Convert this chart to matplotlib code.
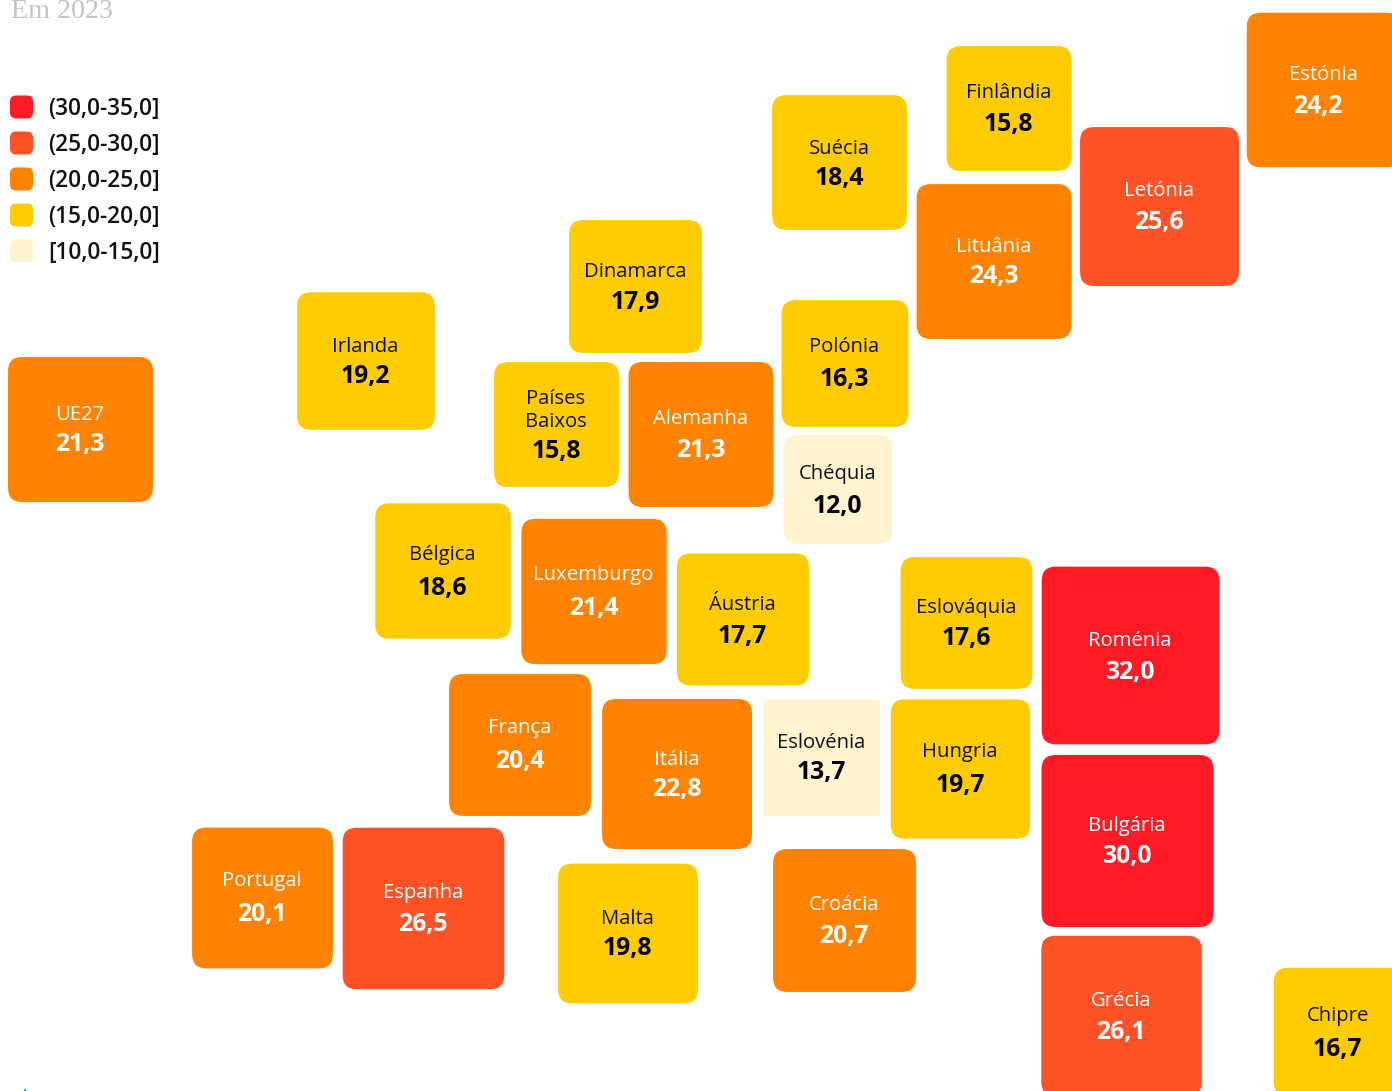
import numpy as np
import matplotlib
matplotlib.use("Agg")
import matplotlib.pyplot as plt
from matplotlib.patches import FancyBboxPatch, Rectangle

countries = ["Estónia","Finlândia","Suécia","Letónia","Lituânia","Dinamarca","Polónia","Irlanda","UE27",
             "Países\nBaixos","Alemanha","Chéquia","Bélgica","Luxemburgo","Áustria","Eslováquia","Roménia",
             "França","Itália","Eslovénia","Hungria","Bulgária","Portugal","Espanha","Malta","Croácia","Grécia","Chipre"]
values = [24.2,15.8,18.4,25.6,24.3,17.9,16.3,19.2,21.3,15.8,21.3,12.0,18.6,21.4,17.7,17.6,32.0,
          20.4,22.8,13.7,19.7,30.0,20.1,26.5,19.8,20.7,26.1,16.7]

# cartogram layout (pixel positions of the square centres)
pos_x = [1324,1009,839.5,1159.5,994,635.5,845,366,80.5,556.5,701,838,443,594,743,966.5,1130.5,
         520,677,821.5,960.5,1127.5,262.5,423.5,628,844.5,1121.5,1338]
pos_y = [90,108.5,162.5,206.5,261.5,286.5,363.5,361,429.5,424.5,434.5,489.5,571,591.5,619.5,623,655.5,
         745,774,757.5,769,841,898,908.5,933.5,920.5,1016,1032]
label_y = [73,91,146,188,245,269.5,345,344,412,408,417,471,552.5,572.5,602,605,638,726,757.5,740,750,823,878.5,890.5,917,903,998,1013]
value_y = [103.5,122,175.5,220,274,300,377,373.5,442,449,448,504,586,605.5,633.5,636,669.5,759,787,770,783,854,912,922,946,933.5,1029.5,1047]
value_x = [1318,1009,839.5,1159,994,635.5,845,366,80.5,556.5,701,838,443,594,743,966.5,1130,
           520,677,821.5,960.5,1127.5,262,423.5,628,844.5,1121,1338]

bin_labels = ["(30,0-35,0]","(25,0-30,0]","(20,0-25,0]","(15,0-20,0]","[10,0-15,0]"]
bin_lower = [30,25,20,15,10]
bin_colors = ["#FF1A26","#FF5227","#FF8200","#FFCC00","#FFF4CE"]
text_on_bin = ["white","white","white","#111111","#111111"]

SIZE_K = 31.4   # side length per sqrt(value)
TEXT_DY = 2.5

def bin_of(v):
    for i, lo in enumerate(bin_lower):
        if v >= lo:
            return i
    return len(bin_lower) - 1

plt.rcParams["font.family"] = ["Open Sans", "DejaVu Sans"]
fig = plt.figure(figsize=(13.92, 10.91), dpi=100, facecolor="white")
ax = fig.add_axes([0, 0, 1, 1])
ax.set_xlim(0, 1392)
ax.set_ylim(1091, 0)
ax.axis("off")

for name, v, cx, cy, ly, vx, vy in zip(countries, values, pos_x, pos_y, label_y, value_x, value_y):
    s = SIZE_K * np.sqrt(v)
    b = bin_of(v)
    radius = 0.1 if name == "Eslovénia" else 14
    ax.add_patch(FancyBboxPatch((cx - s/2, cy - s/2), s, s,
                                boxstyle=f"round,pad=0,rounding_size={radius}",
                                fc=bin_colors[b], ec="none", zorder=2))
    tc = text_on_bin[b]
    ax.text(cx - 0.5, ly + TEXT_DY, name, ha="center", va="center", fontsize=14.6, color=tc,
            linespacing=1.15, fontweight="normal", zorder=3)
    ax.text(vx - 0.3, vy + TEXT_DY, f"{v:.1f}".replace(".", ","), ha="center", va="center",
            fontsize=17.8, fontweight="bold", color="white" if tc == "white" else "black", zorder=3)

for i, (lab, col) in enumerate(zip(bin_labels, bin_colors)):
    y = 107 + 36 * i
    ax.add_patch(FancyBboxPatch((10, y - 11.5), 23, 23, boxstyle="round,pad=0,rounding_size=6",
                                fc=col, ec="none", zorder=2))
    ax.text(48, y + 2, lab, ha="left", va="center", fontsize=16.3, fontweight=600, color="#111111")

ax.text(11, 18, "Em 2023", ha="left", va="baseline", fontsize=20.2,
        family=["Liberation Serif", "DejaVu Serif"], color="#C4C4C4")
ax.add_patch(Rectangle((24, 1089), 2, 2, fc="#19B5F1", ec="none"))

fig.savefig("out.png", dpi=100, facecolor="white")
